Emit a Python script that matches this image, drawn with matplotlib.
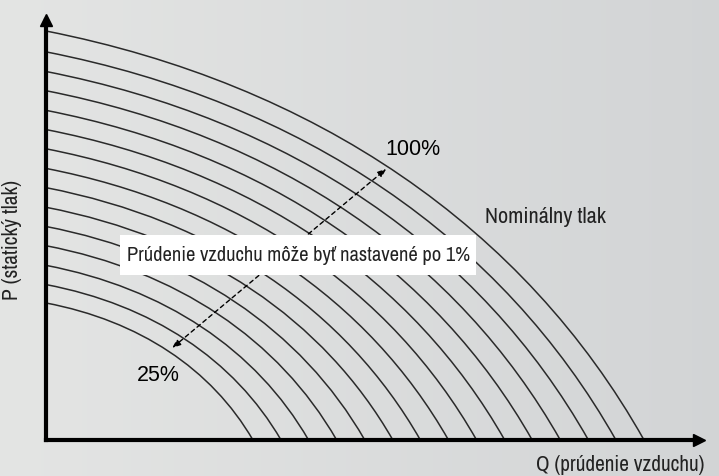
import numpy as np
import matplotlib
matplotlib.use('Agg')
import matplotlib.pyplot as plt
from matplotlib.path import Path
from matplotlib.patches import PathPatch, Rectangle
from matplotlib import font_manager

# curve intercepts, in % of the nominal (outermost) curve
q_max = [34.6, 39.3, 43.9, 48.6, 53.3, 58.0, 62.6, 67.3,
         72.0, 76.7, 81.3, 86.0, 90.7, 95.3, 100.0]
p_max = [33.5, 38.0, 42.7, 47.5, 52.2, 56.9, 61.7, 66.4,
         71.2, 75.9, 80.6, 85.4, 90.1, 94.9, 100.0]

# shape of one curve (cubic bezier control points, fraction of intercepts)
shape_q = [0.0, 0.45, 0.80, 1.0]
shape_p = [1.0, 0.87, 0.52, 0.0]

# dashed arrow 25% -> 100%
arrow_from = (21.1, 22.5)
arrow_to = (56.9, 66.3)

# pick a condensed sans if one is installed
fonts = font_manager.fontManager.ttflist
cond = dict(family='Liberation Sans')
for f in fonts:
    if any(k in f.name for k in ('Condensed', 'Narrow')):
        cond = dict(family=f.name)
        break
else:
    for f in fonts:
        if str(f.stretch) in ('condensed', 'semi-condensed', '87.5', '75') \
                and f.name in ('DejaVu Sans', 'Noto Sans', 'Open Sans', 'Roboto'):
            cond = dict(family=f.name, stretch=f.stretch)
            break

W, H = 719, 476
fig = plt.figure(figsize=(W / 100, H / 100), dpi=100)

# background gradient
bg = fig.add_axes([0, 0, 1, 1])
grad = np.linspace(0, 1, 256)[None, :, None]
c0 = np.array([0.894, 0.898, 0.894])
c1 = np.array([0.825, 0.833, 0.838])
bg.imshow(c0 + (c1 - c0) * grad, aspect='auto', extent=[0, 1, 0, 1])
bg.axis('off')

ax = fig.add_axes([46 / W, 36 / H, 653 / W, 420 / H])
ax.patch.set_alpha(0)
ax.set_xlim(0, 653 / 598 * 100)
ax.set_ylim(0, 420 / 409 * 100)
for s in ['top', 'right']:
    ax.spines[s].set_visible(False)
for s in ['left', 'bottom']:
    ax.spines[s].set_linewidth(3)
    ax.spines[s].set_zorder(5)
ax.set_xticks([])
ax.set_yticks([])
ax.plot(1, 0, '>k', ms=9, transform=ax.transAxes, clip_on=False, zorder=6)
ax.plot(0, 1, '^k', ms=9, transform=ax.transAxes, clip_on=False, zorder=6)

codes = [Path.MOVETO, Path.CURVE4, Path.CURVE4, Path.CURVE4]
for q, p in zip(q_max, p_max):
    verts = [(q * a, p * b) for a, b in zip(shape_q, shape_p)]
    ax.add_patch(PathPatch(Path(verts, codes), fill=False,
                           ec='#2a2a2a', lw=1.1, zorder=2))

ax.annotate('', xy=arrow_to, xytext=arrow_from,
            arrowprops=dict(arrowstyle='<|-|>,head_length=0.5,head_width=0.2',
                            color='black', lw=1.0, ls=(0, (3, 2.5)),
                            shrinkA=0, shrinkB=0), zorder=3)

# white label band
ax.add_patch(Rectangle((12.4, 40.3), 59.5, 9.8, fc='white', ec='none', zorder=4))
t_box = ax.text(42.2, 45.2, 'Prúdenie vzduchu môže byť nastavené po 1%',
                fontsize=16, color='#222222', ha='center', va='center',
                zorder=5, **cond)
t_nom = ax.text(73.4, 54.5, 'Nominálny tlak', fontsize=16,
                color='#222222', ha='left', va='center', **cond)
ax.text(56.8, 71.0, '100%', family='Liberation Sans', fontsize=15.5,
        color='black', ha='left', va='center')
ax.text(15.2, 15.8, '25%', family='Liberation Sans', fontsize=15.5,
        color='black', ha='left', va='center')

t_p = fig.text(12 / W, 1 - 240 / H, 'P (statický tlak)', fontsize=16,
               color='#222222', rotation=90, ha='center', va='center', **cond)
t_q = fig.text(704 / W, 1 - 465 / H, 'Q (prúdenie vzduchu)', fontsize=16,
               color='#222222', ha='right', va='center', **cond)

# shrink texts to the widths they have in the original
r = fig.canvas.get_renderer()
for t, px, vert in [(t_box, 344, False), (t_nom, 122, False),
                    (t_p, 120, True), (t_q, 170, False)]:
    bb = t.get_window_extent(r)
    size = bb.height if vert else bb.width
    if size > px:
        t.set_fontsize(t.get_fontsize() * px / size)

fig.savefig('out.png', dpi=100)
